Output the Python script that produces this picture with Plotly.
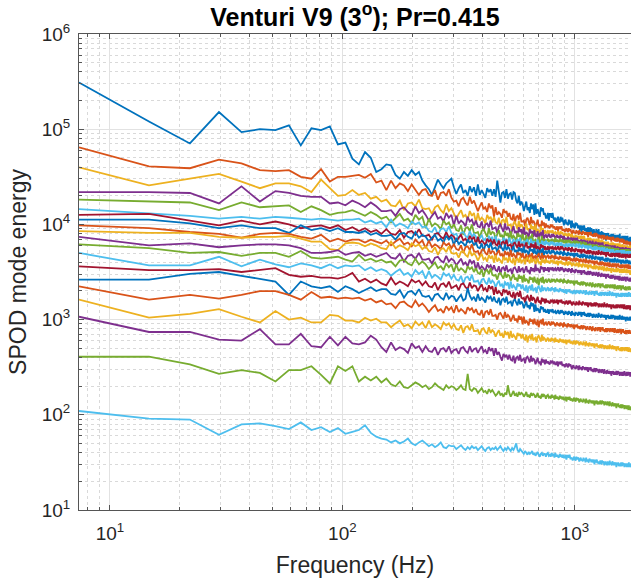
import numpy as np
import plotly.graph_objects as go

# Frequency bin spacing (Hz); bin k sits at k * df_hz
df_hz = 7.36

# SPOD mode energies, stored as 100*log10(energy), one entry per frequency bin (k = 1, 2, ...)
mode01 = [549, 508, 485, 518, 497, 500, 499, 504, 483, 501, 499, 503, 484, 486, 469, 463,
          476, 470, 455, 458,
          463, 462, 452, 448, 455, 451, 457, 452, 455, 446,
          441, 437, 431, 439, 447, 442, 438, 443, 446, 448,
          439, 432, 438, 442, 433, 436, 430, 440, 434, 439,
          430, 442, 431, 436, 432, 428, 438, 434, 437, 430,
          437, 429, 446, 435, 423, 433, 434, 428, 437, 427,
          432, 433, 426, 434, 433, 425, 422, 430, 420, 424,
          421, 414, 420, 424, 415, 418, 412, 422, 416, 421,
          410, 422, 411, 416, 412, 408, 418, 414, 417, 410,
          412, 407, 407, 412, 404, 411, 411, 407, 412, 406,
          405, 407, 402, 407, 408, 403, 402, 408, 403, 407,
          404, 399, 404, 405, 400, 402, 399, 405, 400, 404,
          396, 404, 397, 401, 397, 396, 402, 399, 401, 396,
          399, 394, 394, 399, 391, 398, 398, 394, 399, 393,
          394, 396, 391, 396, 397, 392, 391, 397, 392, 396,
          394, 389, 394, 395, 390, 392, 389, 395, 390, 394,
          387, 395, 388, 392, 388, 387, 393, 390, 392, 387,
          391, 386, 386, 391, 383, 390, 390, 386, 391, 385,
          387, 389, 384, 389, 390, 385, 384, 390, 385, 389,
          388, 383, 388, 389, 384, 386, 383, 389, 384, 388,
          382, 390, 383, 387, 383, 382, 388, 385, 387, 382,
          388, 383, 383, 388, 380, 387, 387, 383, 388, 382,
          384, 386, 381, 386, 387, 382, 381]

mode02 = [481, 461, 459, 468, 464, 457, 456, 457, 450, 448, 458, 445, 450, 450, 451, 452,
          449, 453, 444, 446,
          436, 446, 438, 443, 441, 435, 442, 437, 431, 436,
          437, 431, 430, 436, 426, 433, 434, 430, 437, 428,
          424, 425, 419, 426, 428, 423, 420, 429, 422, 425,
          420, 414, 419, 423, 416, 418, 413, 422, 417, 420,
          408, 418, 410, 413, 411, 407, 416, 412, 414, 408,
          412, 406, 405, 411, 401, 408, 409, 405, 412, 403,
          403, 404, 398, 405, 407, 402, 399, 408, 401, 404,
          402, 396, 401, 405, 398, 400, 395, 404, 399, 402,
          396, 401, 397, 399, 397, 396, 400, 398, 399, 396,
          398, 395, 395, 398, 393, 397, 397, 395, 398, 394,
          394, 395, 392, 395, 396, 393, 392, 396, 393, 395,
          393, 390, 393, 394, 391, 392, 390, 394, 391, 393,
          389, 394, 390, 392, 390, 389, 393, 391, 392, 389,
          392, 389, 389, 392, 387, 391, 391, 389, 392, 388,
          389, 390, 387, 390, 391, 388, 387, 391, 388, 390,
          388, 385, 388, 389, 386, 387, 385, 389, 386, 388,
          384, 389, 385, 387, 385, 384, 388, 386, 387, 384,
          387, 384, 384, 387, 382, 386, 386, 384, 387, 383,
          384, 385, 382, 385, 386, 383, 382, 386, 383, 385,
          384, 381, 384, 385, 382, 383, 381, 385, 382, 384,
          379, 384, 380, 382, 380, 379, 383, 381, 382, 379,
          382, 379, 379, 382, 377, 381, 381]

mode03 = [460, 441, 448, 453, 445, 438, 443, 443, 440, 434, 447, 438, 430, 431, 436, 431,
          433, 427, 429, 424,
          426, 420, 419, 425, 415, 422, 423, 419, 426, 417,
          416, 417, 411, 418, 420, 415, 412, 421, 414, 417,
          412, 406, 411, 415, 408, 410, 405, 414, 409, 412,
          402, 412, 404, 407, 405, 401, 410, 406, 408, 402,
          408, 402, 401, 407, 397, 404, 405, 401, 408, 399,
          399, 400, 394, 401, 403, 398, 395, 404, 397, 400,
          398, 392, 397, 401, 394, 396, 391, 400, 395, 398,
          390, 400, 392, 395, 393, 389, 398, 394, 396, 390,
          394, 391, 391, 394, 389, 393, 393, 391, 394, 390,
          391, 392, 389, 392, 393, 390, 389, 393, 390, 392,
          390, 387, 390, 391, 388, 389, 387, 391, 388, 390,
          385, 390, 386, 388, 386, 385, 389, 387, 388, 385,
          388, 385, 385, 388, 383, 387, 387, 385, 388, 384,
          384, 385, 382, 385, 386, 383, 382, 386, 383, 385,
          384, 381, 384, 385, 382, 383, 381, 385, 382, 384,
          380, 385, 381, 383, 381, 380, 384, 382, 383, 380,
          382, 379, 379, 382, 377, 381, 381, 379, 382, 378,
          379, 380, 377, 380, 381, 378, 377, 381, 378, 380,
          379, 376, 379, 380, 377, 378, 376, 380, 377, 379,
          375, 380, 376, 378, 376, 375, 379, 377, 378, 375,
          378, 375, 375, 378, 373, 377, 377, 375, 378, 374,
          376, 377, 374, 377, 378, 375, 374]

mode04 = [434, 434, 433, 422, 440, 424, 435, 433, 430, 429, 429, 422, 423, 420, 425, 422,
          418, 423, 419, 414,
          414, 415, 409, 416, 418, 413, 410, 419, 412, 415,
          410, 404, 409, 413, 406, 408, 403, 412, 407, 410,
          399, 409, 401, 404, 402, 398, 408, 403, 405, 399,
          404, 398, 397, 403, 393, 400, 401, 397, 404, 395,
          396, 397, 391, 398, 400, 395, 392, 401, 394, 397,
          395, 389, 394, 398, 391, 393, 388, 397, 392, 395,
          387, 397, 389, 392, 390, 386, 395, 391, 393, 387,
          394, 388, 387, 393, 383, 390, 391, 387, 394, 385,
          388, 389, 386, 389, 390, 387, 386, 390, 387, 389,
          388, 385, 388, 389, 386, 387, 385, 389, 386, 388,
          383, 388, 384, 386, 384, 383, 387, 385, 386, 383,
          386, 383, 383, 386, 381, 385, 385, 383, 386, 382,
          382, 383, 380, 383, 384, 381, 380, 384, 381, 383,
          382, 379, 382, 383, 380, 381, 379, 383, 380, 382,
          378, 383, 379, 381, 379, 378, 382, 380, 381, 378,
          381, 378, 378, 381, 376, 380, 380, 378, 381, 377,
          377, 378, 375, 378, 379, 376, 375, 379, 376, 378,
          377, 374, 377, 378, 375, 376, 374, 378, 375, 377,
          373, 378, 374, 376, 374, 373, 377, 375, 376, 373,
          376, 373, 373, 376, 371, 375, 375, 373, 376, 372,
          374, 375, 372, 375, 376, 373, 372, 375, 373, 375,
          374, 371, 374, 375, 372, 373, 371]

mode05 = [426, 424, 423, 415, 423, 418, 419, 420, 413, 419, 415, 410, 412, 413, 415, 412,
          409, 413, 410, 406,
          408, 402, 407, 411, 404, 406, 401, 410, 405, 408,
          396, 406, 398, 401, 399, 395, 404, 400, 402, 396,
          400, 394, 393, 399, 389, 396, 397, 393, 400, 391,
          391, 392, 386, 393, 395, 390, 387, 396, 389, 392,
          391, 385, 390, 394, 387, 389, 384, 393, 388, 391,
          383, 393, 385, 388, 386, 382, 391, 387, 389, 383,
          390, 384, 383, 389, 379, 386, 387, 383, 390, 381,
          383, 384, 378, 385, 387, 382, 379, 388, 381, 384,
          384, 381, 384, 385, 382, 383, 381, 385, 382, 384,
          381, 386, 382, 384, 382, 381, 385, 383, 384, 381,
          384, 381, 381, 384, 379, 383, 383, 381, 384, 380,
          381, 382, 379, 382, 383, 380, 379, 383, 380, 382,
          381, 378, 381, 382, 379, 380, 378, 382, 379, 381,
          376, 381, 377, 379, 377, 376, 380, 378, 379, 376,
          379, 376, 376, 379, 374, 378, 378, 376, 379, 375,
          376, 377, 374, 377, 378, 375, 374, 378, 375, 377,
          376, 373, 376, 377, 374, 375, 373, 377, 374, 376,
          372, 377, 373, 375, 373, 372, 376, 374, 375, 372,
          375, 372, 372, 375, 370, 374, 374, 372, 375, 371,
          372, 373, 370, 373, 374, 371, 370, 374, 371, 373,
          373, 370, 373, 374, 371, 372, 370, 374, 371, 373,
          369, 374, 370, 372, 370, 369, 373]

mode06 = [416, 412, 409, 406, 408, 406, 408, 407, 406, 405, 406, 405, 404, 405, 405, 406,
          402, 404, 401, 403,
          397, 405, 398, 401, 399, 396, 403, 400, 402, 397,
          398, 393, 392, 397, 389, 395, 396, 392, 398, 391,
          389, 390, 385, 391, 392, 388, 386, 393, 387, 390,
          387, 382, 386, 389, 383, 385, 381, 388, 384, 387,
          380, 388, 381, 384, 382, 379, 386, 383, 385, 380,
          386, 381, 380, 385, 377, 383, 384, 380, 386, 379,
          381, 382, 377, 383, 384, 380, 378, 385, 379, 382,
          382, 377, 381, 384, 378, 380, 376, 383, 379, 382,
          378, 383, 379, 381, 379, 378, 382, 380, 381, 378,
          381, 378, 378, 381, 376, 380, 380, 378, 381, 377,
          378, 379, 376, 379, 380, 377, 376, 380, 377, 379,
          379, 376, 379, 380, 377, 378, 376, 380, 377, 379,
          375, 380, 376, 378, 376, 375, 379, 377, 378, 375,
          378, 375, 375, 378, 373, 377, 377, 375, 378, 374,
          375, 376, 373, 376, 377, 374, 373, 377, 374, 376,
          375, 372, 375, 376, 373, 374, 372, 376, 373, 375,
          371, 376, 372, 374, 372, 371, 375, 373, 374, 371,
          374, 371, 371, 374, 369, 373, 373, 371, 374, 370,
          371, 372, 369, 372, 373, 370, 369, 373, 370, 372,
          372, 369, 372, 373, 370, 371, 369, 373, 370, 372,
          368, 373, 369, 371, 369, 368, 372, 370, 371, 368,
          372, 369, 369, 372, 367, 371, 371]

mode07 = [410, 411, 404, 399, 404, 400, 403, 400, 396, 398, 399, 396, 399, 394, 397, 393,
          396, 392, 394, 390,
          395, 390, 389, 394, 386, 392, 393, 389, 395, 388,
          388, 389, 384, 390, 391, 387, 385, 392, 386, 389,
          387, 382, 386, 389, 383, 385, 381, 388, 384, 387,
          379, 387, 380, 383, 381, 378, 385, 382, 384, 379,
          384, 379, 378, 383, 375, 381, 382, 378, 384, 377,
          378, 379, 374, 380, 381, 377, 375, 382, 376, 379,
          379, 374, 378, 381, 375, 377, 373, 380, 376, 379,
          373, 381, 374, 377, 375, 372, 379, 376, 378, 373,
          377, 374, 374, 377, 372, 376, 376, 374, 377, 373,
          375, 376, 373, 376, 377, 374, 373, 377, 374, 376,
          375, 372, 375, 376, 373, 374, 372, 376, 373, 375,
          371, 376, 372, 374, 372, 371, 375, 373, 374, 371,
          374, 371, 371, 374, 369, 373, 373, 371, 374, 370,
          371, 372, 369, 372, 373, 370, 369, 373, 370, 372,
          371, 368, 371, 372, 369, 370, 368, 372, 369, 371,
          368, 373, 369, 371, 369, 368, 372, 370, 371, 368,
          371, 368, 368, 371, 366, 370, 370, 368, 371, 367,
          368, 369, 366, 369, 370, 367, 366, 370, 367, 369,
          369, 366, 369, 370, 367, 368, 366, 370, 367, 369,
          365, 370, 366, 368, 366, 365, 369, 367, 368, 365,
          369, 366, 366, 369, 364, 368, 368, 366, 369, 365,
          367, 368, 365, 368, 369, 366, 365]

mode08 = [405, 405, 401, 396, 399, 396, 396, 391, 399, 394, 396, 393, 396, 392, 392, 391,
          393, 389, 391, 388,
          388, 389, 384, 390, 391, 387, 385, 392, 386, 389,
          387, 382, 386, 389, 383, 385, 381, 388, 384, 387,
          378, 386, 379, 382, 380, 377, 384, 381, 383, 378,
          381, 376, 375, 380, 372, 378, 379, 375, 381, 374,
          375, 376, 371, 377, 378, 374, 372, 379, 373, 376,
          375, 370, 374, 377, 371, 373, 369, 376, 372, 375,
          369, 377, 370, 373, 371, 368, 375, 372, 374, 369,
          375, 370, 369, 374, 366, 372, 373, 369, 375, 368,
          371, 372, 369, 372, 373, 370, 369, 373, 370, 372,
          371, 368, 371, 372, 369, 370, 368, 372, 369, 371,
          367, 372, 368, 370, 368, 367, 371, 369, 370, 367,
          370, 367, 367, 370, 365, 369, 369, 367, 370, 366,
          367, 368, 365, 368, 369, 366, 365, 369, 366, 368,
          367, 364, 367, 368, 365, 366, 364, 368, 365, 367,
          363, 368, 364, 366, 364, 363, 367, 365, 366, 363,
          366, 363, 363, 366, 361, 365, 365, 363, 366, 362,
          363, 364, 361, 364, 365, 362, 361, 365, 362, 364,
          363, 360, 363, 364, 361, 362, 360, 364, 361, 363,
          360, 365, 361, 363, 361, 360, 364, 362, 363, 360,
          363, 360, 360, 363, 358, 362, 362, 360, 363, 359,
          361, 362, 359, 362, 363, 360, 359, 363, 360, 362,
          361, 358, 361, 362, 359, 360, 358]

mode09 = [399, 396, 392, 390, 386, 390, 391, 390, 387, 385, 389, 382, 385, 382, 384, 384,
          381, 384, 382, 380,
          383, 378, 382, 385, 379, 381, 377, 384, 380, 383,
          375, 383, 376, 379, 377, 374, 381, 378, 380, 375,
          379, 374, 373, 378, 370, 376, 377, 373, 379, 372,
          371, 372, 367, 373, 374, 370, 368, 375, 369, 372,
          371, 366, 370, 373, 367, 369, 365, 372, 368, 371,
          365, 373, 366, 369, 367, 364, 371, 368, 370, 365,
          370, 365, 364, 369, 361, 367, 368, 364, 370, 363,
          366, 367, 362, 368, 369, 365, 363, 370, 364, 367,
          367, 364, 367, 368, 365, 366, 364, 368, 365, 367,
          363, 368, 364, 366, 364, 363, 367, 365, 366, 363,
          366, 363, 363, 366, 361, 365, 365, 363, 366, 362,
          363, 364, 361, 364, 365, 362, 361, 365, 362, 364,
          363, 360, 363, 364, 361, 362, 360, 364, 361, 363,
          359, 364, 360, 362, 360, 359, 363, 361, 362, 359,
          362, 359, 359, 362, 357, 361, 361, 359, 362, 358,
          359, 360, 357, 360, 361, 358, 357, 361, 358, 360,
          359, 356, 359, 360, 357, 358, 356, 360, 357, 359,
          355, 360, 356, 358, 356, 355, 359, 357, 358, 355,
          359, 356, 356, 359, 354, 358, 358, 356, 359, 355,
          356, 357, 354, 357, 358, 355, 354, 358, 355, 357,
          357, 354, 357, 358, 355, 356, 354, 358, 355, 357,
          353, 358, 354, 356, 354, 353, 357]

mode10 = [393, 391, 391, 387, 386, 387, 387, 388, 385, 382, 382, 374, 373, 380, 381, 380,
          377, 380, 378, 375,
          374, 382, 375, 378, 376, 373, 380, 377, 379, 374,
          377, 372, 371, 376, 368, 374, 375, 371, 377, 370,
          369, 370, 365, 371, 372, 368, 366, 373, 367, 370,
          367, 362, 366, 369, 363, 365, 361, 368, 364, 367,
          360, 368, 361, 364, 362, 359, 366, 363, 365, 360,
          366, 361, 360, 365, 357, 363, 364, 360, 366, 359,
          362, 363, 358, 364, 365, 361, 359, 366, 360, 363,
          363, 358, 362, 365, 359, 361, 357, 364, 360, 363,
          359, 364, 360, 362, 360, 359, 363, 361, 362, 359,
          362, 359, 359, 362, 357, 361, 361, 359, 362, 358,
          359, 360, 357, 360, 361, 358, 357, 361, 358, 360,
          359, 356, 359, 360, 357, 358, 356, 360, 357, 359,
          355, 360, 356, 358, 356, 355, 359, 357, 358, 355,
          358, 355, 355, 358, 353, 357, 357, 355, 358, 354,
          355, 356, 353, 356, 357, 354, 353, 357, 354, 356,
          355, 352, 355, 356, 353, 354, 352, 356, 353, 355,
          351, 356, 352, 354, 352, 351, 355, 353, 354, 351,
          354, 351, 351, 354, 349, 353, 353, 351, 354, 350,
          352, 353, 350, 353, 354, 351, 350, 354, 351, 353,
          352, 349, 352, 353, 350, 351, 349, 353, 350, 352,
          349, 354, 350, 352, 350, 349, 353, 351, 352, 349,
          352, 349, 349, 352, 347, 351, 351]

mode11 = [387, 378, 380, 376, 378, 379, 379, 378, 375, 370, 370, 371, 373, 368, 370, 371,
          367, 369, 366, 368,
          370, 365, 364, 369, 361, 367, 368, 364, 370, 363,
          363, 364, 359, 365, 366, 362, 360, 367, 361, 364,
          362, 357, 361, 364, 358, 360, 356, 363, 359, 362,
          352, 360, 353, 356, 354, 351, 358, 355, 357, 352,
          357, 352, 351, 356, 348, 354, 355, 351, 357, 350,
          352, 353, 348, 354, 355, 351, 349, 356, 350, 353,
          354, 349, 353, 356, 350, 352, 348, 355, 351, 354,
          350, 358, 351, 354, 352, 349, 356, 353, 355, 350,
          355, 352, 352, 355, 350, 354, 354, 352, 355, 351,
          353, 354, 351, 354, 355, 352, 351, 355, 352, 354,
          353, 350, 353, 354, 351, 352, 350, 354, 351, 353,
          349, 354, 350, 352, 350, 349, 353, 351, 352, 349,
          352, 349, 349, 352, 347, 351, 351, 349, 352, 348,
          349, 350, 347, 350, 351, 348, 347, 351, 348, 350,
          349, 346, 349, 350, 347, 348, 346, 350, 347, 349,
          345, 350, 346, 348, 346, 345, 349, 347, 348, 345,
          348, 345, 345, 348, 343, 347, 347, 345, 348, 344,
          345, 346, 343, 346, 347, 344, 343, 347, 344, 346,
          345, 342, 345, 346, 343, 344, 342, 346, 343, 345,
          341, 346, 342, 344, 342, 341, 345, 343, 344, 341,
          345, 342, 342, 345, 340, 344, 344, 342, 345, 341,
          342, 343, 340, 343, 344, 341, 340]

mode12 = [379, 375, 370, 371, 367, 370, 370, 366, 372, 365, 364, 365, 366, 363, 361, 368,
          362, 364, 361, 363,
          360, 361, 356, 362, 363, 359, 357, 364, 358, 361,
          358, 353, 357, 360, 354, 356, 352, 359, 355, 358,
          350, 358, 351, 354, 352, 349, 356, 353, 355, 350,
          354, 349, 348, 353, 345, 351, 352, 348, 354, 347,
          346, 347, 342, 348, 349, 345, 343, 350, 344, 347,
          346, 341, 345, 348, 342, 344, 340, 347, 343, 346,
          339, 347, 340, 343, 341, 338, 345, 342, 344, 339,
          345, 340, 339, 344, 336, 342, 343, 339, 345, 338,
          341, 342, 339, 342, 343, 340, 339, 343, 340, 342,
          342, 339, 342, 343, 340, 341, 339, 343, 340, 342,
          338, 343, 339, 341, 339, 338, 342, 340, 341, 338,
          341, 338, 338, 341, 336, 340, 340, 338, 341, 337,
          338, 339, 336, 339, 340, 337, 336, 340, 337, 339,
          338, 335, 338, 339, 336, 337, 335, 339, 336, 338,
          334, 339, 335, 337, 335, 334, 338, 336, 337, 334,
          338, 335, 335, 338, 333, 337, 337, 335, 338, 334,
          335, 336, 333, 336, 337, 334, 333, 337, 334, 336,
          336, 333, 336, 337, 334, 335, 333, 337, 334, 336,
          332, 337, 333, 335, 333, 332, 336, 334, 335, 332,
          336, 333, 333, 336, 331, 335, 335, 333, 336, 332,
          333, 334, 331, 334, 335, 332, 331, 334, 332, 334,
          334, 331, 334, 335, 332, 333, 331]

mode13 = [370, 357, 357, 366, 356, 363, 358, 355, 359, 357, 354, 358, 354, 357, 356, 357,
          352, 355, 351, 353,
          351, 346, 350, 353, 347, 349, 345, 352, 348, 351,
          343, 351, 344, 347, 345, 342, 349, 346, 348, 343,
          347, 342, 341, 346, 338, 344, 345, 341, 347, 340,
          340, 341, 336, 342, 343, 339, 337, 344, 338, 341,
          339, 334, 338, 341, 335, 337, 333, 340, 336, 339,
          332, 340, 333, 336, 334, 331, 338, 335, 337, 332,
          337, 332, 331, 336, 328, 334, 335, 331, 337, 330,
          332, 333, 328, 334, 335, 331, 329, 336, 330, 333,
          333, 330, 333, 334, 331, 332, 330, 334, 331, 333,
          329, 334, 330, 332, 330, 329, 333, 331, 332, 329,
          332, 329, 329, 332, 327, 331, 331, 329, 332, 328,
          329, 330, 327, 330, 331, 328, 327, 331, 328, 330,
          330, 327, 330, 331, 328, 329, 327, 331, 328, 330,
          326, 331, 327, 329, 327, 326, 330, 328, 329, 326,
          330, 327, 327, 330, 325, 329, 329, 327, 330, 326,
          327, 328, 325, 328, 329, 326, 325, 329, 326, 328,
          328, 325, 328, 329, 326, 327, 325, 329, 326, 328,
          325, 330, 326, 328, 326, 325, 329, 327, 328, 325,
          328, 325, 325, 328, 323, 327, 327, 325, 328, 324,
          326, 327, 324, 327, 328, 325, 324, 328, 325, 327,
          327, 324, 327, 328, 325, 326, 324, 328, 325, 327,
          324, 329, 325, 327, 325, 324, 328]

mode14 = [356, 352, 352, 353, 350, 352, 354, 347, 345, 346, 344, 344, 343, 345, 349, 340,
          343, 339, 342, 338,
          336, 344, 337, 340, 338, 335, 342, 339, 341, 336,
          340, 335, 334, 339, 331, 337, 338, 334, 340, 333,
          335, 336, 331, 337, 338, 334, 332, 339, 333, 336,
          335, 330, 334, 337, 331, 333, 329, 336, 332, 335,
          326, 334, 327, 330, 328, 325, 332, 329, 331, 326,
          330, 325, 324, 329, 321, 327, 328, 324, 330, 323,
          322, 323, 318, 324, 325, 321, 319, 326, 320, 323,
          322, 317, 321, 324, 318, 320, 316, 323, 319, 322,
          317, 322, 318, 320, 318, 317, 321, 319, 320, 317,
          321, 318, 318, 321, 316, 320, 320, 318, 321, 317,
          318, 319, 316, 319, 320, 317, 316, 320, 317, 319,
          318, 315, 318, 319, 316, 317, 315, 319, 316, 318,
          315, 320, 316, 318, 316, 315, 319, 317, 318, 315,
          318, 315, 315, 318, 313, 317, 317, 315, 318, 314,
          316, 317, 314, 317, 318, 315, 314, 318, 315, 317,
          316, 313, 316, 317, 314, 315, 313, 317, 314, 316,
          313, 318, 314, 316, 314, 313, 317, 315, 316, 313,
          316, 313, 313, 316, 311, 315, 315, 313, 316, 312,
          314, 315, 312, 315, 316, 313, 312, 316, 313, 315,
          315, 312, 315, 316, 313, 314, 312, 316, 313, 315,
          311, 316, 312, 314, 312, 311, 315, 313, 314, 311,
          315, 312, 312, 315, 310, 314, 314]

mode15 = [342, 342, 348, 350, 346, 343, 340, 326, 340, 335, 333, 335, 329, 335, 332, 328,
          331, 334, 330, 332,
          332, 327, 326, 331, 323, 329, 330, 326, 332, 325,
          324, 325, 320, 326, 327, 323, 321, 328, 322, 325,
          324, 319, 323, 326, 320, 322, 333, 325, 321, 324,
          319, 327, 320, 323, 321, 318, 325, 322, 324, 319,
          324, 319, 318, 323, 315, 321, 322, 318, 324, 317,
          318, 319, 314, 320, 321, 317, 315, 322, 316, 319,
          317, 312, 316, 319, 313, 315, 311, 318, 314, 317,
          308, 316, 309, 312, 310, 307, 314, 311, 313, 308,
          311, 308, 308, 311, 306, 310, 310, 308, 311, 307,
          308, 309, 306, 309, 310, 307, 306, 310, 307, 309,
          308, 305, 308, 309, 306, 307, 305, 309, 306, 308,
          304, 309, 305, 307, 305, 304, 308, 306, 307, 304,
          308, 305, 305, 308, 303, 307, 307, 305, 308, 304,
          305, 306, 303, 306, 307, 304, 303, 307, 304, 306,
          305, 302, 305, 306, 303, 304, 302, 306, 303, 305,
          302, 307, 303, 305, 303, 302, 306, 304, 305, 302,
          305, 302, 302, 305, 300, 304, 304, 302, 305, 301,
          303, 304, 301, 304, 305, 302, 301, 305, 302, 304,
          303, 300, 303, 304, 301, 302, 300, 304, 301, 303,
          300, 305, 301, 303, 301, 300, 304, 302, 303, 300,
          303, 300, 300, 303, 298, 302, 302, 300, 303, 299,
          301, 302, 299, 302, 303, 300, 299]

mode16 = [335, 321, 326, 322, 326, 330, 330, 326, 321, 329, 323, 324, 322, 323, 322, 323,
          320, 322, 318, 320,
          316, 317, 312, 318, 319, 315, 313, 320, 314, 317,
          313, 308, 312, 315, 309, 311, 307, 314, 310, 313,
          307, 315, 308, 311, 309, 306, 313, 310, 312, 307,
          311, 306, 305, 310, 302, 308, 309, 305, 311, 304,
          304, 305, 300, 306, 307, 303, 301, 308, 302, 305,
          303, 298, 302, 305, 299, 301, 297, 304, 300, 303,
          295, 303, 296, 299, 297, 294, 301, 298, 300, 295,
          301, 296, 295, 300, 292, 298, 299, 295, 301, 294,
          296, 297, 294, 297, 298, 295, 294, 298, 295, 297,
          296, 293, 296, 297, 294, 295, 293, 297, 294, 296,
          292, 297, 293, 295, 293, 292, 296, 294, 295, 292,
          295, 292, 292, 295, 290, 294, 294, 292, 295, 291,
          292, 293, 290, 293, 294, 291, 290, 294, 291, 293,
          292, 289, 292, 293, 290, 291, 289, 293, 290, 292,
          288, 293, 289, 291, 289, 288, 292, 290, 291, 288,
          292, 289, 289, 292, 287, 291, 291, 289, 292, 288,
          289, 290, 287, 290, 291, 288, 287, 291, 288, 290,
          290, 287, 290, 291, 288, 289, 287, 291, 288, 290,
          286, 291, 287, 289, 287, 286, 290, 288, 289, 286,
          290, 287, 287, 290, 285, 289, 289, 287, 290, 286,
          287, 288, 285, 288, 289, 286, 285, 289, 286, 288,
          288, 285, 288, 289, 286, 287, 285]

mode17 = [321, 302, 306, 311, 303, 297, 309, 300, 302, 297, 297, 305, 304, 299, 299, 297,
          302, 299, 301, 297,
          297, 292, 296, 299, 293, 295, 291, 298, 294, 297,
          291, 299, 292, 295, 293, 290, 297, 294, 296, 291,
          295, 290, 289, 294, 286, 292, 293, 289, 295, 288,
          288, 289, 284, 290, 291, 287, 285, 292, 286, 289,
          287, 282, 286, 289, 283, 285, 281, 288, 284, 287,
          280, 288, 281, 284, 282, 279, 286, 283, 285, 280,
          285, 280, 279, 284, 276, 282, 283, 279, 285, 278,
          280, 281, 276, 282, 283, 279, 277, 284, 278, 281,
          280, 277, 280, 281, 278, 279, 277, 281, 278, 280,
          276, 281, 277, 279, 277, 276, 280, 278, 279, 276,
          279, 276, 276, 279, 274, 278, 278, 276, 279, 275,
          276, 277, 274, 277, 278, 275, 274, 278, 275, 277,
          276, 273, 276, 277, 274, 275, 273, 277, 274, 276,
          272, 277, 273, 275, 273, 272, 276, 274, 275, 272,
          275, 272, 272, 275, 270, 274, 274, 272, 275, 271,
          272, 273, 270, 273, 274, 271, 270, 274, 271, 273,
          272, 269, 272, 273, 270, 271, 269, 273, 270, 272,
          269, 274, 270, 272, 270, 269, 273, 271, 272, 269,
          272, 269, 269, 272, 267, 271, 271, 269, 272, 268,
          269, 270, 267, 270, 271, 268, 267, 271, 268, 270,
          270, 267, 270, 271, 268, 269, 267, 271, 268, 270,
          266, 271, 267, 269, 267, 266, 270]

mode18 = [303, 287, 287, 279, 278, 290, 274, 274, 285, 272, 271, 282, 273, 282, 275, 274,
          276, 283, 279, 271,
          266, 276, 268, 271, 269, 265, 275, 270, 272, 266,
          272, 267, 266, 271, 263, 269, 270, 266, 272, 265,
          268, 269, 264, 270, 271, 267, 265, 272, 266, 269,
          270, 265, 269, 272, 266, 268, 264, 271, 267, 270,
          262, 270, 263, 266, 261, 257, 264, 261, 263, 258,
          263, 258, 257, 262, 254, 260, 261, 257, 263, 256,
          258, 259, 254, 260, 261, 257, 255, 262, 256, 259,
          258, 253, 257, 260, 254, 256, 252, 259, 255, 258,
          253, 258, 254, 256, 254, 253, 257, 255, 256, 253,
          256, 253, 253, 256, 251, 255, 255, 253, 256, 252,
          252, 253, 250, 253, 254, 251, 250, 254, 251, 253,
          251, 248, 251, 252, 249, 250, 248, 252, 249, 251,
          247, 252, 248, 250, 248, 247, 251, 249, 250, 247,
          250, 247, 247, 250, 245, 249, 249, 247, 250, 246,
          247, 248, 245, 248, 249, 246, 245, 249, 246, 248,
          247, 244, 247, 248, 245, 246, 244, 248, 245, 247,
          243, 248, 244, 246, 244, 243, 247, 245, 246, 243,
          246, 243, 243, 246, 241, 245, 245, 243, 246, 242,
          244, 245, 242, 245, 246, 243, 242, 246, 243, 245,
          244, 241, 244, 245, 242, 243, 241, 245, 242, 244,
          241, 246, 242, 244, 242, 241, 245, 243, 244, 241,
          245, 242, 242, 245, 240, 244, 244]

mode19 = [261, 261, 253, 243, 247, 244, 235, 247, 247, 251, 242, 233, 251, 246, 251, 235,
          240, 236, 240, 234,
          238, 232, 230, 235, 229, 228, 231, 234, 232, 229,
          231, 227, 229, 233, 230, 228, 226, 231, 228, 230,
          229, 226, 228, 231, 227, 226, 243, 227, 225, 228,
          227, 223, 226, 228, 224, 225, 222, 227, 224, 226,
          223, 220, 222, 225, 221, 222, 219, 223, 221, 231,
          223, 219, 222, 225, 220, 222, 219, 224, 221, 223,
          222, 219, 221, 224, 219, 221, 218, 223, 220, 222,
          221, 218, 220, 223, 218, 220, 217, 222, 219, 221,
          220, 217, 220, 221, 218, 219, 217, 221, 218, 220,
          216, 221, 217, 219, 217, 216, 220, 218, 219, 216,
          219, 216, 216, 219, 214, 218, 218, 216, 219, 215,
          216, 217, 214, 217, 218, 215, 214, 218, 215, 217,
          216, 213, 216, 217, 214, 215, 213, 217, 214, 216,
          212, 217, 213, 215, 213, 212, 216, 214, 215, 212,
          215, 212, 212, 215, 210, 214, 214, 212, 215, 211,
          213, 214, 211, 214, 215, 212, 211, 215, 212, 214,
          213, 210, 213, 214, 211, 212, 210, 214, 211, 213,
          209, 214, 210, 212, 210, 209, 213, 211, 212, 209,
          212, 209, 209, 212, 207, 211, 211, 209, 212, 208,
          209, 210, 207, 210, 211, 208, 207, 211, 208, 210,
          209, 206, 209, 210, 207, 208, 206, 210, 207, 209,
          205, 210, 206, 208, 206, 205, 209]

mode20 = [204, 196, 195, 179, 190, 191, 188, 185, 192, 184, 187, 182, 186, 180, 182, 184,
          189, 181, 177, 175,
          174, 171, 173, 170, 172, 175, 170, 168, 171, 173,
          170, 167, 169, 166, 168, 171, 166, 165, 168, 167,
          167, 164, 166, 168, 165, 163, 166, 164, 167, 165,
          166, 163, 165, 167, 164, 162, 165, 166, 163, 165,
          164, 166, 163, 165, 167, 164, 162, 165, 163, 166,
          164, 162, 165, 163, 166, 170, 163, 161, 164, 162,
          161, 159, 162, 160, 158, 161, 159, 160, 162, 158,
          160, 157, 159, 161, 158, 156, 159, 160, 157, 159,
          159, 156, 159, 160, 157, 158, 156, 160, 157, 159,
          155, 160, 156, 158, 156, 155, 159, 157, 158, 155,
          158, 155, 155, 158, 153, 157, 157, 155, 158, 154,
          154, 155, 152, 155, 156, 153, 152, 156, 153, 155,
          154, 151, 154, 155, 152, 153, 151, 155, 152, 154,
          150, 155, 151, 153, 151, 150, 154, 152, 153, 150,
          153, 150, 150, 153, 148, 152, 152, 150, 153, 149,
          150, 151, 148, 151, 152, 149, 148, 152, 149, 151,
          150, 147, 150, 151, 148, 149, 147, 151, 148, 150,
          147, 152, 148, 150, 148, 147, 151, 149, 150, 147,
          150, 147, 147, 150, 145, 149, 149, 147, 150, 146,
          148, 149, 146, 149, 150, 147, 146, 150, 147, 149,
          148, 145, 148, 149, 146, 147, 145, 149, 146, 148,
          145, 150, 146, 148, 146, 145, 149]

modes = [mode01, mode02, mode03, mode04, mode05, mode06, mode07, mode08, mode09, mode10,
         mode11, mode12, mode13, mode14, mode15, mode16, mode17, mode18, mode19, mode20]

# MATLAB default line colour order
line_colors = ["#0072BD", "#D95319", "#EDB120", "#7E2F8E", "#77AC30", "#4DBEEE", "#A2142F"]

x_tick_vals = [10, 100, 1000]
x_tick_text = ["10<sup>1</sup>", "10<sup>2</sup>", "10<sup>3</sup>"]
y_tick_vals = [10, 100, 1000, 10000, 100000, 1000000]
y_tick_text = ["10<sup>1</sup>", "10<sup>2</sup>", "10<sup>3</sup>",
               "10<sup>4</sup>", "10<sup>5</sup>", "10<sup>6</sup>"]

n_bins_shown = 237
x_lo = np.log10(df_hz)
x_hi = np.log10(df_hz * n_bins_shown)

minor_x = [m * 10.0 ** e for e in range(0, 4) for m in range(2, 10)]
minor_y = [m * 10.0 ** e for e in range(1, 6) for m in range(2, 10)]

fig = go.Figure()
for i, vals in enumerate(modes):
    v = np.asarray(vals, dtype=float) / 100.0
    k = np.arange(1, len(v) + 1)
    fig.add_trace(go.Scatter(
        x=df_hz * k, y=10.0 ** v, mode="lines",
        line=dict(color=line_colors[i % len(line_colors)], width=1.8),
        showlegend=False, hoverinfo="skip"))

axis_color = "#555555"
grid_major = "#e2e2e2"
grid_minor = "#d9d9d9"
font_family = "Liberation Sans, Arial, Helvetica, sans-serif"

common = dict(
    type="log", showline=True, linecolor=axis_color, linewidth=1,
    ticks="inside", ticklen=5, tickcolor=axis_color, tickwidth=1,
    showgrid=True, gridcolor=grid_major, gridwidth=1, zeroline=False,
    tickfont=dict(size=19, color="#262626", family=font_family),
    tickmode="array",
)

fig.update_layout(
    width=631, height=585,
    margin=dict(l=79, r=0, t=34, b=75),
    paper_bgcolor="white", plot_bgcolor="white",
    font=dict(family=font_family, color="#262626"),
    title=dict(text="<b>Venturi V9 (3<sup>o</sup>); Pr=0.415</b>",
               x=0.5, xref="paper", xanchor="center",
               y=1 - 17 / 585, yref="container", yanchor="middle",
               font=dict(size=25, color="#000000", family=font_family)),
    xaxis=dict(common, range=[x_lo, x_hi], tickvals=x_tick_vals, ticktext=x_tick_text,
               mirror="ticks", ticklabelstandoff=6,
               minor=dict(tickmode="array", tickvals=minor_x, ticks="inside", ticklen=3,
                          tickcolor=axis_color, showgrid=True, gridcolor=grid_minor,
                          griddash="dot", gridwidth=1),
               title=dict(text="Frequency (Hz)", standoff=14,
                          font=dict(size=23, color="#262626", family=font_family))),
    yaxis=dict(common, range=[1, 6], tickvals=y_tick_vals, ticktext=y_tick_text,
               mirror=False, ticklabelstandoff=4,
               minor=dict(tickmode="array", tickvals=minor_y, ticks="inside", ticklen=3,
                          tickcolor=axis_color, showgrid=True, gridcolor=grid_minor,
                          griddash="dot", gridwidth=1),
               title=dict(text="SPOD mode energy", standoff=8,
                          font=dict(size=23, color="#262626", family=font_family))),
)

fig.write_html("out.html", config={"displayModeBar": False})
